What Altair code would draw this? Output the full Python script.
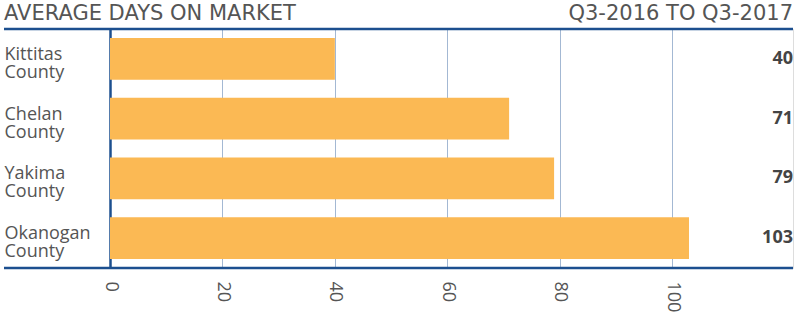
import altair as alt
import pandas as pd

counties = ["Kittitas County", "Chelan County", "Yakima County", "Okanogan County"]
days = [40, 71, 79, 103]
tick_values = [0, 20, 40, 60, 80, 100]
title_left = "AVERAGE DAYS ON MARKET"
title_right = "Q3-2016 TO Q3-2017"

df = pd.DataFrame({"county": counties, "days": days})

W, H = 683, 239
FONT = "Open Sans"
TFONT = "DejaVu Sans"
BLUE = "#1c4f8f"
GRID = "#a3b8d3"
TXT = "#555555"

x_scale = alt.Scale(domain=[0, 121.5], nice=False, zero=True)
y_enc = alt.Y("county:N", sort=counties, title=None,
              scale=alt.Scale(paddingInner=0.3, paddingOuter=0.15),
              axis=alt.Axis(labelExpr="split(datum.label, ' ')", labelAlign="left",
                            labelPadding=106, ticks=False, tickSize=0,
                            labelFont=FONT, labelFontSize=18, labelColor=TXT,
                            labelLineHeight=18, labelBaseline="middle", labelOffset=-4,
                            domainColor=BLUE, domainWidth=2.5, grid=False))

bars = alt.Chart(df).mark_bar(color="#FBB954").encode(
    x=alt.X("days:Q", scale=x_scale, title=None,
            axis=alt.Axis(values=tick_values, labelAngle=90, labelPadding=13,
                          labelFont=FONT, labelFontSize=18, labelColor=TXT,
                          ticks=False, domain=False, grid=True,
                          gridColor=GRID, gridWidth=1)),
    y=y_enc,
)

vals = alt.Chart(df).mark_text(align="right", baseline="middle", font=FONT,
                               fontSize=18, fontWeight="bold", color="#444444").encode(
    x=alt.value(W), y=alt.Y("county:N", sort=counties), text="days:Q")

rules_df = pd.DataFrame({"yy": [0, H]})
rules = alt.Chart(rules_df).mark_rule(color=BLUE, strokeWidth=2.5).encode(
    x=alt.value(-106), x2=alt.value(W), y=alt.Y("yy:Q", scale=None))

titles_df = pd.DataFrame({"t": [title_left]})
tl = alt.Chart(titles_df).mark_text(align="left", baseline="alphabetic", font=TFONT,
                                    fontSize=21, color=TXT).encode(
    x=alt.value(-106), y=alt.value(-9), text="t:N")
tr_df = pd.DataFrame({"t": [title_right]})
tr = alt.Chart(tr_df).mark_text(align="right", baseline="alphabetic", font=TFONT,
                                fontSize=21, color=TXT).encode(
    x=alt.value(W), y=alt.value(-9), text="t:N")

chart = alt.layer(bars, vals, rules, tl, tr).properties(
    width=W, height=H,
    autosize=alt.AutoSizeParams(type="none"),
    padding={"left": 110, "top": 29, "right": 7, "bottom": 53},
).configure_view(stroke=None).configure(background="white")

chart.save("out.html", embed_options={"renderer": "svg", "actions": False})
